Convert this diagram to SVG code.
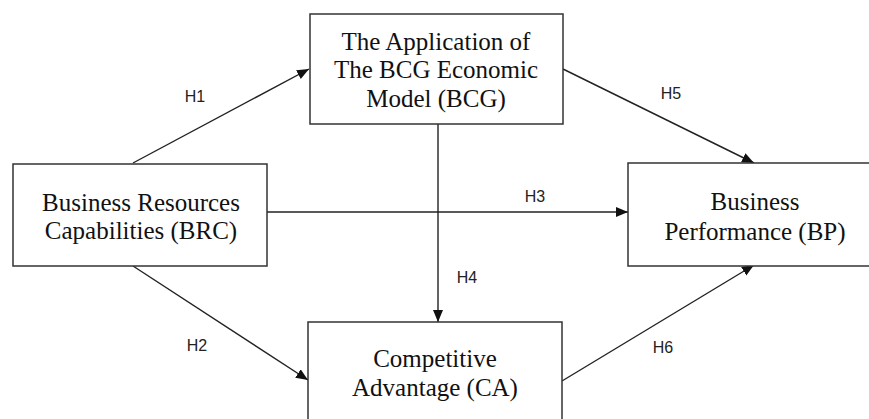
<svg xmlns="http://www.w3.org/2000/svg" width="869" height="419" viewBox="0 0 869 419">
  <defs>
    <marker id="arr" markerUnits="userSpaceOnUse" markerWidth="13" markerHeight="11" refX="12" refY="5" orient="auto">
      <path d="M0,0 L12,5 L0,10 z" fill="#111"/>
    </marker>
  </defs>
  <style>
    .box { fill: #fff; stroke: #333; stroke-width: 1.5; }
    .t { font-family: "Liberation Serif", "Times New Roman", serif; font-size: 25px; fill: #111; text-anchor: middle; }
    .c { stroke: #222; stroke-width: 1.4; fill: none; marker-end: url(#arr); }
    .h { font-family: "Liberation Sans", Arial, sans-serif; font-size: 16px; fill: #222; text-anchor: middle; }
  </style>
  <rect width="869" height="419" fill="#fff"/>
  <g id="connectors">
    <line class="c" x1="133" y1="163" x2="309" y2="69"/>
    <line class="c" x1="133" y1="266" x2="308" y2="380"/>
    <line class="c" x1="267" y1="212" x2="628" y2="212"/>
    <line class="c" x1="438" y1="124" x2="438" y2="322"/>
    <line class="c" x1="563" y1="69" x2="754" y2="163"/>
    <line class="c" x1="562" y1="381" x2="754" y2="265"/>
    <text class="h" x="195" y="102">H1</text>
    <text class="h" x="197" y="351">H2</text>
    <text class="h" x="535" y="202">H3</text>
    <text class="h" x="467" y="283">H4</text>
    <text class="h" x="671" y="99">H5</text>
    <text class="h" x="663" y="353">H6</text>
  </g>
  <g id="BCG">
    <rect class="box" x="310" y="14" width="253" height="110"/>
    <text class="t" x="436" y="50">The Application of</text>
    <text class="t" x="436" y="78">The BCG Economic</text>
    <text class="t" x="436" y="107">Model (BCG)</text>
  </g>
  <g id="BRC">
    <rect class="box" x="13" y="164" width="254" height="102"/>
    <text class="t" x="141" y="211">Business Resources</text>
    <text class="t" x="141" y="239">Capabilities (BRC)</text>
  </g>
  <g id="BP">
    <rect class="box" x="628" y="163" width="260" height="103"/>
    <text class="t" x="755" y="210">Business</text>
    <text class="t" x="755" y="240">Performance (BP)</text>
  </g>
  <g id="CA">
    <rect class="box" x="308" y="322" width="254" height="120"/>
    <text class="t" x="435" y="367">Competitive</text>
    <text class="t" x="435" y="396">Advantage (CA)</text>
  </g>
</svg>
